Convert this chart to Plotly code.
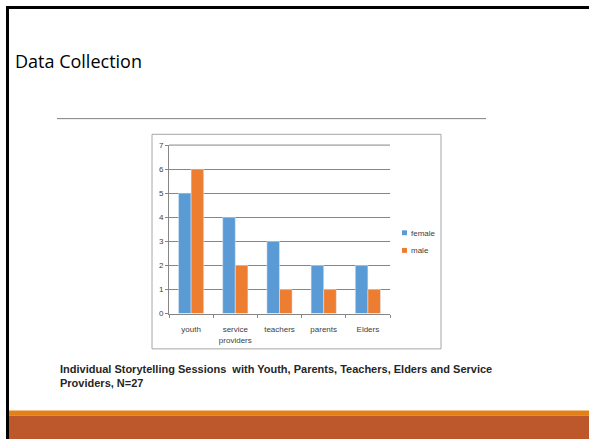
import plotly.graph_objects as go

categories = ["youth", "service<br>providers", "teachers", "parents", "Elders"]
female = [5, 4, 3, 2, 2]
male = [6, 2, 1, 1, 1]
y_ticks = [0, 1, 2, 3, 4, 5, 6, 7]
series_names = ["female", "male"]

W, H = 589, 444
BLUE = "#5B9BD5"
ORANGE = "#ED7D31"

def px(x):
    return x / W

def py(y):
    return 1 - y / H

fig = go.Figure()
fig.add_trace(go.Bar(x=categories, y=female, name=series_names[0], marker_color=BLUE))
fig.add_trace(go.Bar(x=categories, y=male, name=series_names[1], marker_color=ORANGE))

shapes = []
def rect(x0, y0, x1, y1, fill=None, line=None, lw=0, layer="below"):
    shapes.append(dict(type="rect", xref="paper", yref="paper",
                       x0=px(x0), x1=px(x1), y0=py(y1), y1=py(y0),
                       fillcolor=fill if fill else "rgba(0,0,0,0)",
                       line=dict(color=line if line else "rgba(0,0,0,0)", width=lw),
                       layer=layer))

# slide borders
rect(6, 2, 9, 444, fill="#000000")
rect(6, 2, 589, 5, fill="#000000")
# bottom bands
rect(9, 415, 589, 420, fill="#E38016")
rect(9, 420, 589, 444, fill="#BC582C")
# chart frame
rect(152, 133, 441, 352, line="#A6A6A6", lw=1)
# title rule
shapes.append(dict(type="line", xref="paper", yref="paper",
                   x0=px(57), x1=px(486), y0=py(117), y1=py(117),
                   line=dict(color="#7F7F7F", width=1)))
# top gridline at 7 (plot top edge)
shapes.append(dict(type="line", xref="paper", yref="paper",
                   x0=px(169), x1=px(390), y0=py(144), y1=py(144),
                   line=dict(color="#868686", width=1), layer="above"))

annotations = [
    dict(text="Data Collection", xref="paper", yref="paper", x=px(13), y=py(58),
         xanchor="left", yanchor="middle", showarrow=False,
         font=dict(family="Open Sans, Liberation Sans", size=18, color="#000000")),
    dict(text="Individual Storytelling Sessions  with Youth, Parents, Teachers, Elders and Service<br>Providers, N=27",
         xref="paper", yref="paper", x=px(58), y=py(380), align="left",
         xanchor="left", yanchor="middle", showarrow=False,
         font=dict(family="Liberation Sans", size=11, color="#262626", weight="bold")),
]

# manual legend
leg_colors = [BLUE, ORANGE]
leg_y = [234, 252]
for name, col, yy in zip(series_names, leg_colors, leg_y):
    rect(402, yy - 3, 407, yy + 2, fill=col, layer="above")
    annotations.append(dict(text=name, xref="paper", yref="paper", x=px(409), y=py(yy),
                            xanchor="left", yanchor="middle", showarrow=False,
                            font=dict(family="Liberation Sans", size=8, color="#404040")))

fig.update_layout(
    width=W, height=H,
    margin=dict(l=0, r=0, t=0, b=0),
    paper_bgcolor="white", plot_bgcolor="rgba(0,0,0,0)",
    barmode="group", bargap=0.43, bargroupgap=0,
    shapes=shapes, annotations=annotations,
    showlegend=False,
    font=dict(family="Liberation Sans", size=8, color="#404040"),
    xaxis=dict(domain=[px(169), px(390)], showline=True, linecolor="#868686",
               ticks="outside", tickson="boundaries", ticklen=3, tickcolor="#868686",
               ticklabelstandoff=8,
               tickfont=dict(size=8, color="#404040"), showgrid=False),
    yaxis=dict(domain=[py(316), py(144)], range=[0, 7], tickvals=y_ticks,
               showline=True, linecolor="#868686", ticks="outside", ticklen=3,
               tickcolor="#868686", gridcolor="#868686", gridwidth=1,
               tickfont=dict(size=8, color="#404040"), zeroline=False),
)

fig.write_html("out.html")
